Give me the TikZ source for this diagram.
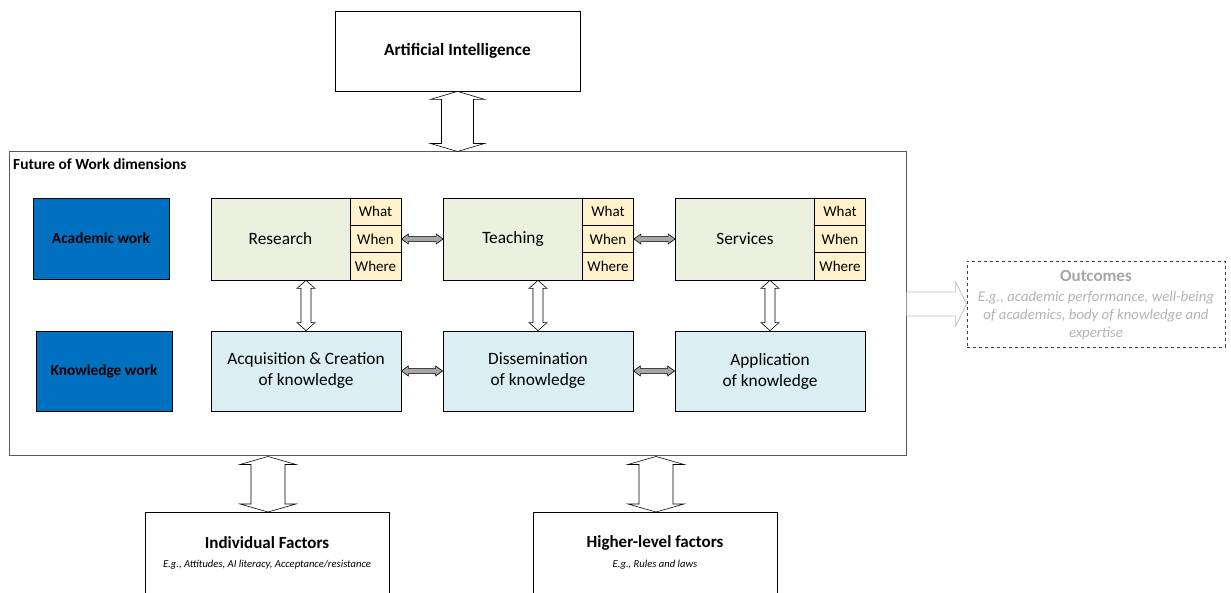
\documentclass[tikz,border=0pt]{standalone}
\usepackage{fontspec}
\setmainfont{Carlito}
\usetikzlibrary{calc}
\definecolor{acblue}{HTML}{0070C0}
\definecolor{resgreen}{HTML}{EBF1DE}
\definecolor{cellyel}{HTML}{FFF2CC}
\definecolor{kwblue}{HTML}{DAEEF3}
\definecolor{arrgray}{HTML}{A6A6A6}
\definecolor{outgray}{HTML}{A6A6A6}
\definecolor{framegray}{HTML}{595959}
\newcommand\vdarr[6]{\draw[#1] let \p1=#2, \p2=#3 in
  (\x1,\y1) -- (\x1+#4,\y1-#6) -- (\x1+#5,\y1-#6) -- (\x1+#5,\y2+#6) -- (\x1+#4,\y2+#6) -- (\x1,\y2)
  -- (\x1-#4,\y2+#6) -- (\x1-#5,\y2+#6) -- (\x1-#5,\y1-#6) -- (\x1-#4,\y1-#6) -- cycle;}
\newcommand\hdarr[6]{\draw[#1] let \p1=#2, \p2=#3 in
  (\x1,\y1) -- (\x1+#6,\y1+#4) -- (\x1+#6,\y1+#5) -- (\x2-#6,\y1+#5) -- (\x2-#6,\y1+#4) -- (\x2,\y1)
  -- (\x2-#6,\y1-#4) -- (\x2-#6,\y1-#5) -- (\x1+#6,\y1-#5) -- (\x1+#6,\y1-#4) -- cycle;}
\tikzset{
  box/.style={draw, line width=0.8pt, inner sep=0pt, align=center},
  mainbox/.style={box, fill=resgreen, minimum width=139pt, minimum height=82pt, font=\fontsize{17.3}{20}\selectfont},
  cell/.style={box, fill=cellyel, minimum width=51pt, minimum height=27.33pt, font=\fontsize{15}{17}\selectfont},
  kbox/.style={box, fill=kwblue, minimum width=190pt, minimum height=80pt, font=\fontsize{17.3}{21}\selectfont},
  bluebox/.style={box, fill=acblue, minimum width=136pt, font=\bfseries\fontsize{15.4}{18}\selectfont},
  whitearr/.style={draw, fill=white, line width=0.6pt},
  grayarr/.style={draw, fill=arrgray, line width=0.6pt},
}
\begin{document}
\begin{tikzpicture}[x=1pt,y=1pt]
\useasboundingbox (0,0) rectangle (1231,593);
% top
\node[box, minimum width=245pt, minimum height=80pt, font=\bfseries\fontsize{17.2}{20}\selectfont] (AI) at (457.5,542) {Artificial Intelligence};
% frame
\node[draw=framegray, line width=1pt, minimum width=897pt, minimum height=304pt, inner sep=0pt] (FoW) at (457.5,289) {};
\node[anchor=west, font=\bfseries\fontsize{15.4}{17}\selectfont, inner sep=0pt] (FoWt) at (13,429) {Future of Work dimensions};
% left blue
\node[bluebox, minimum height=81pt] (AW) at (101,354.5) {Academic work};
\node[bluebox, minimum height=80pt] (KW) at (104,222) {Knowledge work};
% academic row
\node[mainbox] (Res) at (280.5,354) {Research};
\node[cell] (Rwhat) at (375.5,381.33) {What};
\node[cell] (Rwhen) at (375.5,354) {When};
\node[cell] (Rwhere) at (375.5,326.67) {Where};
\node[mainbox] (Tea) at (513,354) {Teaching};
\node[cell] (Twhat) at (608,381.33) {What};
\node[cell] (Twhen) at (608,354) {When};
\node[cell] (Twhere) at (608,326.67) {Where};
\node[mainbox] (Ser) at (745,354) {Services};
\node[cell] (Swhat) at (840,381.33) {What};
\node[cell] (Swhen) at (840,354) {When};
\node[cell] (Swhere) at (840,326.67) {Where};
% knowledge row
\node[kbox] (Acq) at (306,222) {Acquisition \& Creation\\of knowledge};
\node[kbox] (Dis) at (538,222) {Dissemination\\of knowledge};
\node[kbox] (App) at (770,222) {Application\\of knowledge};
% outcomes
\node[draw=black!75, dashed, line width=0.7pt, minimum width=258pt, minimum height=86pt, inner sep=0pt] (Out) at (1096,289) {};
\node[font=\bfseries\fontsize{17}{20}\selectfont, text=outgray, inner sep=0pt] (Outt) at (1096,317) {Outcomes};
\node[font=\itshape\fontsize{14.8}{17.7}\selectfont, text=outgray!85, align=center, inner sep=0pt] (Outb) at (1096,277.5) {E.g., academic performance, well-being\\of academics, body of knowledge and\\expertise};
% bottom boxes
\node[box, minimum width=244pt, minimum height=90pt, anchor=north] (Ind) at (267,81) {};
\node[font=\bfseries\fontsize{17}{20}\selectfont, inner sep=0pt] (Indt) at (267,50) {Individual Factors};
\node[font=\itshape\fontsize{10.6}{12}\selectfont, inner sep=0pt] (Inds) at (267,28) {E.g., Attitudes, AI literacy, Acceptance/resistance};
\node[box, minimum width=244pt, minimum height=90pt, anchor=north] (Hig) at (655,81) {};
\node[font=\bfseries\fontsize{17}{20}\selectfont, inner sep=0pt] (Higt) at (655,50) {Higher-level factors};
\node[font=\itshape\fontsize{10.6}{12}\selectfont, inner sep=0pt] (Higs) at (655,28) {E.g., Rules and laws};
% big arrows
\vdarr{whitearr}{(AI.south)}{(FoW.north)}{27pt}{16pt}{8pt}
\vdarr{whitearr}{(268,0 |- FoW.south)}{(268,0 |- Ind.north)}{28pt}{17pt}{8pt}
\vdarr{whitearr}{(656,0 |- FoW.south)}{(656,0 |- Hig.north)}{28pt}{17pt}{8pt}
% vertical small arrows
\vdarr{whitearr}{(306,0 |- Res.south)}{(Acq.north)}{9pt}{5pt}{8pt}
\vdarr{whitearr}{(538,0 |- Tea.south)}{(Dis.north)}{9pt}{5pt}{8pt}
\vdarr{whitearr}{(770,0 |- Ser.south)}{(App.north)}{9pt}{5pt}{8pt}
% horizontal gray arrows
\hdarr{grayarr}{(Rwhen.east)}{(Tea.west |- Rwhen.east)}{5pt}{2.6pt}{7pt}
\hdarr{grayarr}{(Twhen.east)}{(Ser.west |- Twhen.east)}{5pt}{2.6pt}{7pt}
\hdarr{grayarr}{(Acq.east)}{(Dis.west)}{5pt}{2.6pt}{7pt}
\hdarr{grayarr}{(Dis.east)}{(App.west)}{5pt}{2.6pt}{7pt}
% outcome arrow
\draw[draw=black!25, fill=white, line width=0.8pt] let \p1=(FoW.east), \p2=(Out.west) in
  (\x1,\y1+12pt) -- (\x2-11pt,\y1+12pt) -- (\x2-11pt,\y1+22pt) -- (\x2,\y1) -- (\x2-11pt,\y1-22pt)
  -- (\x2-11pt,\y1-12pt) -- (\x1,\y1-12pt);
\end{tikzpicture}
\end{document}
